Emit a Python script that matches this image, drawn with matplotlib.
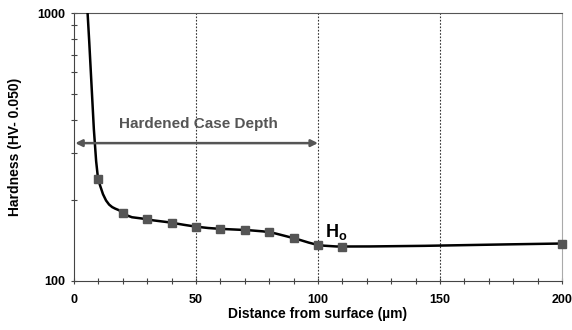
import matplotlib
matplotlib.use('Agg')
import matplotlib.pyplot as plt
import numpy as np
from matplotlib.path import Path
from matplotlib.patches import PathPatch
from matplotlib.ticker import FixedLocator, MultipleLocator, NullFormatter

plt.rcParams.update({'font.family': ['Liberation Sans', 'DejaVu Sans'],
                     'font.weight': 'bold',
                     'mathtext.fontset': 'custom',
                     'mathtext.bf': 'Liberation Sans:bold'})

# data
depth = [5, 10, 20, 30, 40, 50, 60, 70, 80, 90, 100, 110, 200]
hardness = [1230, 240, 180, 170, 165, 159.5, 156.5, 155, 152, 144.5, 136.5, 134.5, 138]
marked = [False] + [True] * 12
x_ticks = [0, 50, 100, 150, 200]
case_depth = (0, 100)
arrow_level = 327

def smooth_path(xs, ys):
    # smoothed line: cubic Bezier through the points in (x, log y),
    # tangents limited so the curve does not overshoot
    x = np.array(xs, float)
    ly = np.log10(np.array(ys, float))
    n = len(x)
    s = np.diff(ly) / np.diff(x)
    m = np.zeros(n)
    m[0], m[-1] = s[0], s[-1]
    for i in range(1, n - 1):
        c = (ly[i + 1] - ly[i - 1]) / (x[i + 1] - x[i - 1])
        if s[i - 1] * s[i] <= 0:
            m[i] = 0
        else:
            lim = 3 * min(abs(s[i - 1]), abs(s[i]))
            m[i] = np.sign(c) * min(abs(c), lim)
    verts = [(x[0], 10 ** ly[0])]
    codes = [Path.MOVETO]
    for i in range(n - 1):
        d = (x[i + 1] - x[i]) / 3
        verts += [(x[i] + d, 10 ** (ly[i] + m[i] * d)),
                  (x[i + 1] - d, 10 ** (ly[i + 1] - m[i + 1] * d)),
                  (x[i + 1], 10 ** ly[i + 1])]
        codes += [Path.CURVE4] * 3
    return Path(verts, codes)

fig = plt.figure(figsize=(5.72, 3.3), dpi=100)
ax = fig.add_axes([0.1294, 0.1485, 0.853, 0.812])
ax.set_yscale('log')
ax.set_xlim(0, 200)
ax.set_ylim(100, 1000)

for xv in [50, 100, 150]:
    ax.axvline(xv, color='#333333', lw=0.8, ls=(0, (1.5, 1.5)), zorder=1)

ax.add_patch(PathPatch(smooth_path(depth, hardness), fill=False,
                       edgecolor='black', lw=1.8, zorder=3))
mx = [d for d, k in zip(depth, marked) if k]
my = [h for h, k in zip(hardness, marked) if k]
ax.plot(mx, my, ls='none', marker='s', ms=5.5, color='#555555', zorder=4,
        clip_on=False)

ax.annotate('', xy=(case_depth[0] + 0.5, arrow_level), xytext=(case_depth[1], arrow_level),
            arrowprops=dict(arrowstyle='<|-|>', color='#555555', lw=1.8,
                            mutation_scale=10, shrinkA=0, shrinkB=0))
ax.text((case_depth[0] + case_depth[1]) / 2 + 1, 385, 'Hardened Case Depth',
        ha='center', va='center', fontsize=11, color='#555555', fontweight='bold')
ax.text(102.8, 146, r'$\mathbf{H_o}$', ha='left', va='baseline',
        fontsize=13, color='black')

ax.set_xticks(x_ticks)
ax.xaxis.set_minor_locator(MultipleLocator(10))
ax.yaxis.set_major_locator(FixedLocator([100, 1000]))
ax.yaxis.set_minor_locator(FixedLocator(range(200, 1000, 100)))
ax.yaxis.set_minor_formatter(NullFormatter())
ax.set_yticklabels(['100', '1000'])
ax.tick_params(which='both', direction='inout', length=5, width=0.8,
               labelsize=9, color='#444444')
ax.tick_params(axis='x', pad=7)

ax.spines['left'].set_color('#444444')
ax.spines['bottom'].set_color('#444444')
ax.spines['top'].set_color('#555555')
ax.spines['right'].set_color('#aaaaaa')

ax.set_xlabel('Distance from surface (\u00b5m)', fontsize=10, fontweight='bold')
ax.xaxis.set_label_coords(0.5, -0.098)
ax.set_ylabel('Hardness (HV- 0.050)', fontsize=10, fontweight='bold')
ax.yaxis.set_label_coords(-0.106, 0.5)

fig.savefig('out.png', dpi=100)
